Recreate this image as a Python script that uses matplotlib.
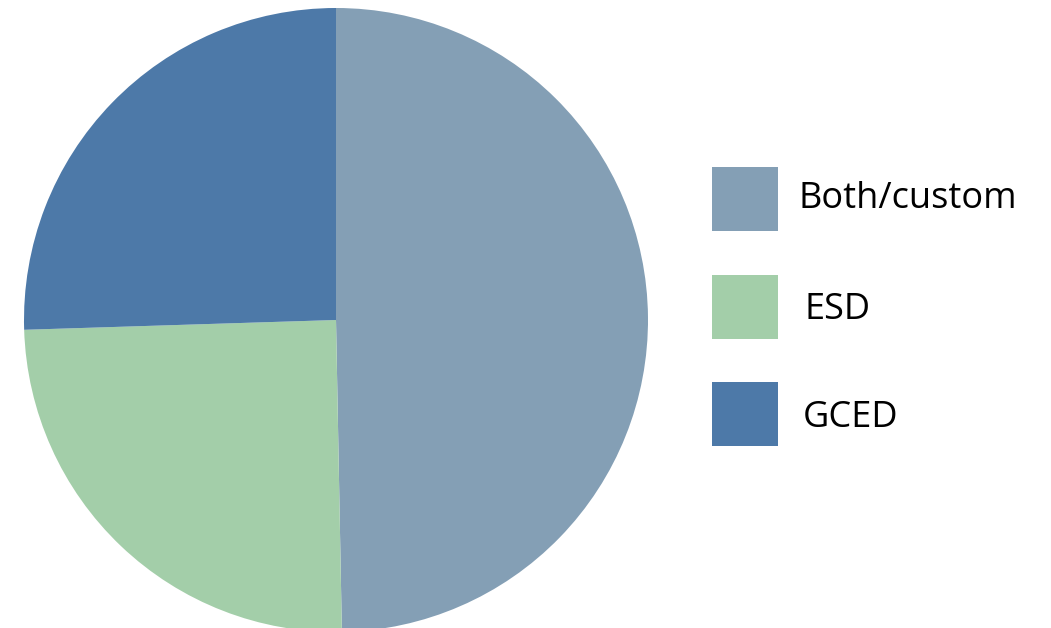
import matplotlib
matplotlib.use("Agg")
import matplotlib.pyplot as plt
from matplotlib.patches import Rectangle

categories = ["Both/custom", "ESD", "GCED"]
values = [49.7, 24.8, 25.5]
colors = ["#849FB5", "#A3CEA9", "#4D79A8"]

W, H = 1051, 628
fig = plt.figure(figsize=(W / 100, H / 100), dpi=100)
fig.patch.set_facecolor("white")

# pie axes (pixel geometry)
cx, cy, r = 336, 320, 312
ax = fig.add_axes([(cx - r) / W, (H - cy - r) / H, 2 * r / W, 2 * r / H])
ax.pie(values, colors=colors, startangle=90, counterclock=False, radius=1,
       wedgeprops=dict(linewidth=0))
ax.set_xlim(-1, 1)
ax.set_ylim(-1, 1)
ax.set_aspect("equal")
ax.axis("off")

# legend
box_x, box_w, box_h = 712, 66, 64
box_tops = [167, 275, 382]
text_x = [798, 805, 803]
baselines = [208, 319, 427]
for lab, col, top, tx, bl in zip(categories, colors, box_tops, text_x, baselines):
    fig.patches.append(Rectangle((box_x / W, (H - top - box_h) / H), box_w / W, box_h / H,
                                 transform=fig.transFigure, facecolor=col, edgecolor="none"))
    fig.text(tx / W, (H - bl) / H, lab, fontsize=26, family="Open Sans",
             va="baseline", ha="left", color="black")

fig.savefig("out.png", dpi=100, facecolor="white")
